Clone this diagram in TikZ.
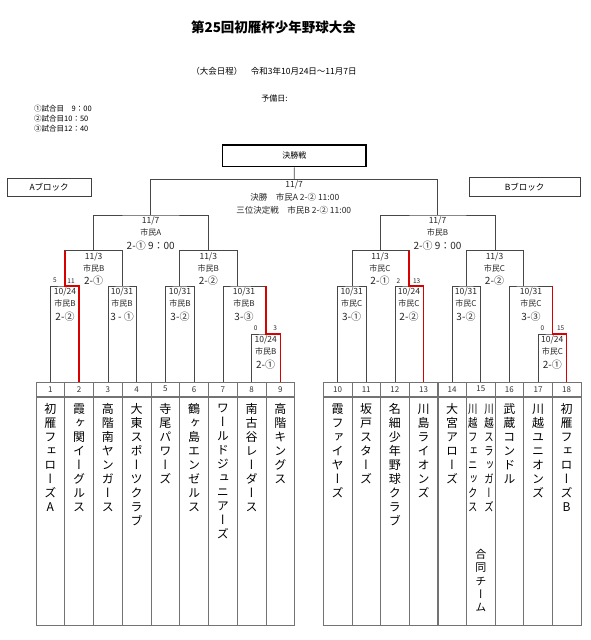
\documentclass[tikz,border=0pt]{standalone}
\usepackage{fontspec}
\usepackage{graphicx}
\setmainfont{Noto Sans CJK JP}
\newfontfamily\jpv{Noto Sans CJK JP}[RawFeature=+vert]
\usetikzlibrary{calc}

\def\vcharfmt#1{#1}
\def\vcharsA#1#2\vcharsEnd{\hbox to 14pt{\hss\vcharfmt{#1}\hss}\ifx\relax#2\relax\else\vcharsA#2\vcharsEnd\fi}
\newcommand\vchars[2][14pt]{\vbox{\jpv\fontsize{12}{14}\selectfont\baselineskip=#1\lineskiplimit=-100pt\lineskip=0pt\vcharsA#2\vcharsEnd}}
\newcommand\vcharsN[2][14pt]{\vbox{\def\vcharfmt##1{\scalebox{0.78}[1]{##1}}\jpv\fontsize{12}{14}\selectfont\baselineskip=#1\lineskiplimit=-100pt\lineskip=0pt\vcharsA#2\vcharsEnd}}
\newcommand\vcharsS[2][13.3pt]{\vbox{\jpv\fontsize{11}{13}\selectfont\baselineskip=#1\lineskiplimit=-100pt\lineskip=0pt\vcharsA#2\vcharsEnd}}

\tikzset{
  br/.style={draw=black!72, line width=0.7pt},
  win/.style={draw=red!85!black, line width=1.6pt},
  numcell/.style={draw=black!55, line width=0.6pt, minimum width=28.7pt, minimum height=14.3pt, inner sep=0pt, font=\fontsize{8}{9}\selectfont, text=black!80},
  namecell/.style={draw=black!55, line width=0.6pt, minimum width=28.7pt, minimum height=228.7pt, inner sep=0pt, anchor=north},
  dt/.style={inner sep=0pt, font=\fontsize{8.5}{10}\selectfont, text=black!85},
  pl/.style={inner sep=0pt, font=\fontsize{8}{10}\selectfont, text=black!85},
  sc/.style={inner sep=0pt, font=\fontsize{10}{12}\selectfont, text=black!85},
  pts/.style={inner sep=0pt, font=\fontsize{6.5}{8}\selectfont, text=black!85},
  blkbox/.style={draw=black!75, line width=0.8pt, inner sep=0pt, font=\fontsize{8.5}{10}\selectfont},
  vname/.style={anchor=north, inner sep=0pt},
  hdr/.style={inner sep=0pt, font=\fontsize{8.5}{10}\selectfont},
}

\newcommand\mtext[6]{%
  \node[dt] (#1d) at (#2,#3+6) {#4};
  \node[pl] (#1p) at (#2,#3+17.7) {#5};
  \node[sc] (#1s) at (#2,#3+30.3) {#6};}

\begin{document}
\begin{tikzpicture}[x=1pt,y=-1pt]
\useasboundingbox[fill=white] (0,0) rectangle (590,640);

% header
\node[inner sep=0pt, font=\bfseries\fontsize{13.5}{16}\selectfont] (title) at (273.5,27) {第25回初雁杯少年野球大会};
\node[hdr] (period) at (274,71.7) {（大会日程）　令和3年10月24日～11月7日};
\node[hdr, font=\fontsize{8}{10}\selectfont] (yobi) at (274.5,98.3) {予備日:};
\node[inner sep=0pt, anchor=west, font=\fontsize{7.5}{9}\selectfont] (g1) at (34,109) {①試合目　9：00};
\node[inner sep=0pt, anchor=west, font=\fontsize{7.5}{9}\selectfont] (g2) at (34,119) {②試合目10：50};
\node[inner sep=0pt, anchor=west, font=\fontsize{7.5}{9}\selectfont] (g3) at (34,129) {③試合目12：40};

% boxes
\node[draw=black, line width=1.3pt, minimum width=143.3pt, minimum height=21.7pt, inner sep=0pt, font=\fontsize{8}{10}\selectfont] (kesshou) at (294.35,155.85) {決勝戦};
\node[blkbox, minimum width=83.7pt, minimum height=18.4pt] (ablk) at (49.15,187.5) {Aブロック};
\node[blkbox, minimum width=110.7pt, minimum height=18.3pt] (bblk) at (524.65,186.85) {Bブロック};

% table
\foreach \i/\lab in {1/1,2/2,3/3,4/4,5/5,6/6,7/7,8/8,9/9}{
  \node[numcell] (n\i) at ({36+(\i-0.5)*28.75},389.15) {\lab};
  \node[namecell] (k\i) at (n\i.south) {};
}
\foreach \i in {10,...,18}{
  \node[numcell] (n\i) at ({323.3+(\i-9.5)*28.63},389.15) {\i};
  \node[namecell] (k\i) at (n\i.south) {};
}

% team names
\node[vname] (t1) at (n1.south |- 0,403.5) {\vchars{初雁フェローズA}};
\node[vname] (t2) at (n2.south |- 0,403.5) {\vchars{霞ヶ関イーグルス}};
\node[vname] (t3) at (n3.south |- 0,403.5) {\vchars{高階南ヤンガース}};
\node[vname] (t4) at (n4.south |- 0,403.5) {\vchars{大東スポーツクラブ}};
\node[vname] (t5) at (n5.south |- 0,403.5) {\vchars{寺尾パワーズ}};
\node[vname] (t6) at (n6.south |- 0,403.5) {\vchars{鶴ヶ島エンゼルス}};
\node[vname] (t7) at (n7.south |- 0,403.5) {\vchars{ワールドジュニアーズ}};
\node[vname] (t8) at (n8.south |- 0,403.5) {\vchars{南古谷レーダース}};
\node[vname] (t9) at (n9.south |- 0,403.5) {\vchars{高階キングス}};
\node[vname] (t10) at (n10.south |- 0,403.5) {\vchars{霞ファイヤーズ}};
\node[vname] (t11) at (n11.south |- 0,403.5) {\vchars{坂戸スターズ}};
\node[vname] (t12) at (n12.south |- 0,403.5) {\vchars{名細少年野球クラブ}};
\node[vname] (t13) at (n13.south |- 0,403.5) {\vchars{川島ライオンズ}};
\node[vname] (t14) at (n14.south |- 0,403.5) {\vchars{大宮アローズ}};
\node[vname] (t15a) at (489,403.5) {\vcharsN{川越スラッガーズ}};
\node[vname] (t15b) at (472.7,403.5) {\vcharsN{川越フェニックス}};
\node[vname] (t15c) at (480.8,549) {\vcharsS{合同チーム}};
\node[vname] (t16) at (n16.south |- 0,403.5) {\vchars{武蔵コンドル}};
\node[vname] (t17) at (n17.south |- 0,403.5) {\vchars{川越ユニオンズ}};
\node[vname] (t18) at (n18.south |- 0,403.5) {\vchars{初雁フェローズB}};

% junctions
\coordinate (mA12) at (64.75,286);
\coordinate (mA34) at (122.25,286);
\coordinate (mA56) at (179.75,286);
\coordinate (mA89) at (265.75,334);
\coordinate (mA789) at (237,286);
\coordinate (mA1234) at (93.5,250.7);
\coordinate (mA59) at (208.4,250.7);
\coordinate (mA) at (150.75,215);
\coordinate (fin) at (294.2,179.3);
\coordinate (mB1011) at (351.9,286);
\coordinate (mB1213) at (409,286);
\coordinate (mB1415) at (466.2,286);
\coordinate (mB1718) at (552.4,334);
\coordinate (mB1618) at (523.7,286);
\coordinate (mB1013) at (380.4,250.7);
\coordinate (mB1418) at (495,250.7);
\coordinate (mB) at (437.7,215);

% bracket A
\draw[br] (n1.north) |- (mA12) -| (n2.north);
\draw[br] (n3.north) |- (mA34) -| (n4.north);
\draw[br] (n5.north) |- (mA56) -| (n6.north);
\draw[br] (n8.north) |- (mA89) -| (n9.north);
\draw[br] (n7.north) |- (mA789) -| (mA89);
\draw[br] (mA12) |- (mA1234) -| (mA34);
\draw[br] (mA56) |- (mA59) -| (mA789);
\draw[br] (mA1234) |- (mA) -| (mA59);
% bracket B
\draw[br] (n10.north) |- (mB1011) -| (n11.north);
\draw[br] (n12.north) |- (mB1213) -| (n13.north);
\draw[br] (n14.north) |- (mB1415) -| (n15.north);
\draw[br] (n17.north) |- (mB1718) -| (n18.north);
\draw[br] (n16.north) |- (mB1618) -| (mB1718);
\draw[br] (mB1011) |- (mB1013) -| (mB1213);
\draw[br] (mB1415) |- (mB1418) -| (mB1618);
\draw[br] (mB1013) |- (mB) -| (mB1418);
% final
\draw[br] (mA) |- (fin) -| (mB);
\draw[br] (fin) -- (kesshou.south);

% winners
\draw[win] (n2.north) |- (mA12) -- (mA12 |- mA1234);
\draw[win] (n9.north) |- (mA89) -- (mA89 |- mA789);
\draw[win] (n13.north) |- (mB1213) -- (mB1213 |- mB1013);
\draw[win] (n18.north) |- (mB1718) -- (mB1718 |- mB1618);

% match texts
\mtext{A12}{65}{286}{10/24}{市民B}{2-②}
\mtext{A34}{122}{286}{10/31}{市民B}{3 - ①}
\mtext{A56}{180}{286}{10/31}{市民B}{3-②}
\mtext{A789}{244}{286}{10/31}{市民B}{3-③}
\mtext{A89}{265.7}{334}{10/24}{市民B}{2-①}
\mtext{A1234}{93.7}{250.7}{11/3}{市民B}{2-①}
\mtext{A59}{208.3}{250.7}{11/3}{市民B}{2-②}
\mtext{AA}{150.7}{215}{11/7}{市民A}{2-① 9：00}
\mtext{B1011}{351.7}{286}{10/31}{市民C}{3-①}
\mtext{B1213}{409}{286}{10/24}{市民C}{2-②}
\mtext{B1415}{466}{286}{10/31}{市民C}{3-②}
\mtext{B1618}{531}{286}{10/31}{市民C}{3-③}
\mtext{B1718}{552.3}{334}{10/24}{市民C}{2-①}
\mtext{B1013}{380}{250.7}{11/3}{市民C}{2-①}
\mtext{B1418}{494.5}{250.7}{11/3}{市民C}{2-②}
\mtext{BB}{437.5}{215}{11/7}{市民B}{2-① 9：00}

% final texts
\node[dt] (f1) at (294.2,185) {11/7};
\node[dt] (f2) at (294.8,197.3) {決勝　市民A 2-② 11:00};
\node[dt] (f3) at (293.8,210) {三位決定戦　市民B 2-② 11:00};

% scores
\node[pts] (s1) at (55,280.7) {5};
\node[pts] (s2) at (71,280.7) {11};
\node[pts] (s8) at (255.7,328.3) {0};
\node[pts] (s9) at (275.3,328.3) {3};
\node[pts] (s12) at (398.3,280.7) {2};
\node[pts] (s13) at (416.7,280.7) {13};
\node[pts] (s17) at (542.3,328.3) {0};
\node[pts] (s18) at (560.7,328.3) {15};
\end{tikzpicture}
\end{document}
